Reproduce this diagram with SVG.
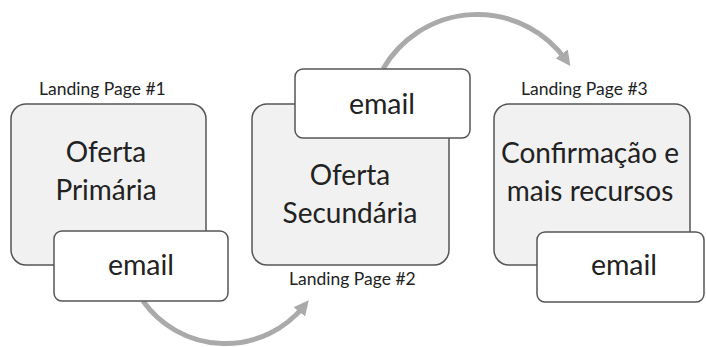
<svg xmlns="http://www.w3.org/2000/svg" width="706" height="347" viewBox="0 0 706 347">
  <defs>
    <marker id="arrow" viewBox="0 0 10 10" refX="5" refY="5" markerWidth="3" markerHeight="3" orient="auto" markerUnits="strokeWidth">
      <path d="M0,0 L10,5 L0,10 Z" fill="#aaaaaa"/>
    </marker>
    <style>
      .page { fill: #f1f1f1; stroke: #555555; stroke-width: 1.5; }
      .mail { fill: #ffffff; stroke: #555555; stroke-width: 1.5; }
      .label { font-family: Lato, "Liberation Sans", sans-serif; font-size: 17.5px; fill: #222222; }
      .title { font-family: Lato, "Liberation Sans", sans-serif; font-size: 28px; fill: #222222; text-anchor: middle; }
      .mailtext { font-size: 28.5px; }
      .flow { fill: none; stroke: #aaaaaa; stroke-width: 5; marker-end: url(#arrow); }
    </style>
  </defs>
  <rect width="706" height="347" fill="#ffffff"/>

  <g id="connectors">
    <path class="flow" d="M143,301 A101,101 0 0 0 304,306"/>
    <path class="flow" d="M383,69 A109,109 0 0 1 566,60"/>
  </g>

  <g id="lp1">
    <text class="label" x="39" y="95">Landing Page #1</text>
    <rect class="page" x="11" y="104" width="195" height="161" rx="15"/>
    <text class="title" x="106" y="162">Oferta</text>
    <text class="title" x="106" y="200">Primária</text>
  </g>
  <g id="email1">
    <rect class="mail" x="54" y="231" width="174" height="70" rx="8"/>
    <text class="title mailtext" x="141" y="275">email</text>
  </g>

  <g id="lp2">
    <rect class="page" x="252" y="104" width="197" height="161" rx="15"/>
    <text class="title" x="350" y="185">Oferta</text>
    <text class="title" x="350" y="223">Secundária</text>
    <text class="label" x="289" y="285">Landing Page #2</text>
  </g>
  <g id="email2">
    <rect class="mail" x="295" y="69" width="175" height="69" rx="8"/>
    <text class="title mailtext" x="382" y="114">email</text>
  </g>

  <g id="lp3">
    <text class="label" x="521" y="95">Landing Page #3</text>
    <rect class="page" x="494" y="104" width="196" height="161" rx="15"/>
    <text class="title" x="590" y="163">Confirmação e</text>
    <text class="title" x="590" y="201">mais recursos</text>
  </g>
  <g id="email3">
    <rect class="mail" x="537" y="232" width="167" height="70" rx="8"/>
    <text class="title mailtext" x="624" y="275">email</text>
  </g>
</svg>
